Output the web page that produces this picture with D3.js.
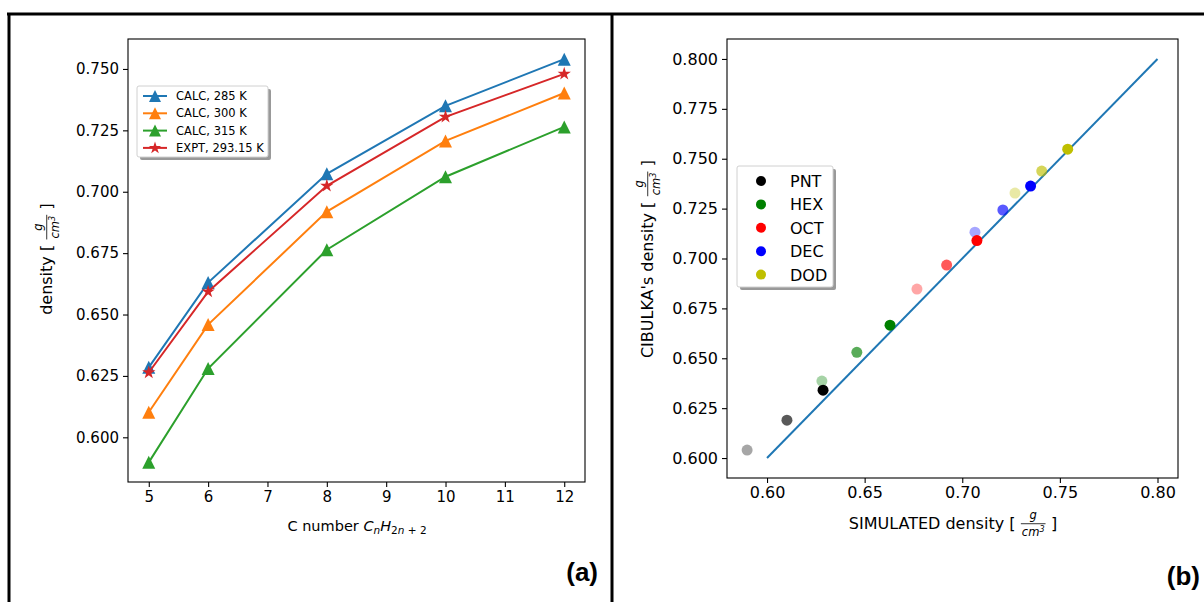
<!DOCTYPE html>
<html>
<head>
<meta charset="utf-8">
<script src="https://cdn.jsdelivr.net/npm/d3@7"></script>
<style>
  body { margin: 0; background: #fff; }
  text { font-family: "DejaVu Sans", sans-serif; fill: #000; }
</style>
</head>
<body>
<svg id="chart" width="1204" height="602"></svg>
<script>
// ---- panel (a): density vs carbon number ----
const carbonNumbers = [5, 6, 8, 10, 12]
const calc285 = [0.6285, 0.6630, 0.7073, 0.7350, 0.7540]
const calc300 = [0.6102, 0.6459, 0.6919, 0.7207, 0.7402]
const calc315 = [0.5898, 0.6280, 0.6764, 0.7061, 0.7264]
const expt29315 = [0.6264, 0.6593, 0.7024, 0.7305, 0.7480]
const seriesNames = ["CALC, 285 K", "CALC, 300 K", "CALC, 315 K", "EXPT, 293.15 K"]
const leftXTicks = [5, 6, 7, 8, 9, 10, 11, 12]
const leftYTicks = [0.600, 0.625, 0.650, 0.675, 0.700, 0.725, 0.750]

// ---- panel (b): simulated vs Cibulka ----
const compounds = ["PNT", "HEX", "OCT", "DEC", "DOD"]
// three temperatures per compound (drawn light -> dark)
const simulated = [
    [0.5898, 0.6102, 0.6287],
    [0.6281, 0.6460, 0.6630],
    [0.6768, 0.6920, 0.7075],
    [0.7065, 0.7208, 0.7350],
    [0.7270, 0.7407, 0.7540]
]
const cibulka = [
    [0.6040, 0.6190, 0.6340],
    [0.6386, 0.6530, 0.6666],
    [0.6847, 0.6967, 0.7090],
    [0.7132, 0.7243, 0.7363],
    [0.7328, 0.7438, 0.7548]
]
const pointAlpha = [0.35, 0.65, 1]
const parityLine = [0.60, 0.80]
const rightXTicks = [0.60, 0.65, 0.70, 0.75, 0.80]
const rightYTicks = [0.600, 0.625, 0.650, 0.675, 0.700, 0.725, 0.750, 0.775, 0.800]

const lineColors = ["#1f77b4", "#ff7f0e", "#2ca02c", "#d62728"]
const dotColors = ["#000000", "#008000", "#ff0000", "#0000ff", "#bfbf00"]

const svg = d3.select("#chart")

// outer panel frame
svg.append("line").attr("x1", 7).attr("x2", 1204).attr("y1", 14).attr("y2", 14)
    .attr("stroke", "#000").attr("stroke-width", 3)
svg.append("line").attr("x1", 9).attr("x2", 9).attr("y1", 13).attr("y2", 602)
    .attr("stroke", "#000").attr("stroke-width", 3)
svg.append("line").attr("x1", 612).attr("x2", 612).attr("y1", 13).attr("y2", 602)
    .attr("stroke", "#000").attr("stroke-width", 3)

function trianglePath(h) {
    return "M0," + (-h) + "L" + h + "," + h + "L" + (-h) + "," + h + "Z"
}
function starPath(r) {
    const inner = r * 0.382
    let p = []
    for (let i = 0; i < 10; i++) {
        const rr = i % 2 === 0 ? r : inner
        const a = -Math.PI / 2 + i * Math.PI / 5
        p.push((rr * Math.cos(a)).toFixed(2) + "," + (rr * Math.sin(a)).toFixed(2))
    }
    return "M" + p.join("L") + "Z"
}

function drawAxes(x, y, xTicks, yTicks, xFmt, yFmt, fs) {
    const [x0, x1] = x.range()
    const [y0, y1] = y.range()
    const xAxis = svg.append("g")
        .attr("transform", "translate(0," + y0 + ")")
        .call(d3.axisBottom(x).tickValues(xTicks).tickSize(5).tickPadding(4).tickFormat(xFmt))
    const yAxis = svg.append("g")
        .attr("transform", "translate(" + x0 + ",0)")
        .call(d3.axisLeft(y).tickValues(yTicks).tickSize(5).tickPadding(4).tickFormat(yFmt))
    for (const a of [xAxis, yAxis]) {
        a.select(".domain").remove()
        a.selectAll("text").style("font-size", fs + "px").style("font-family", "DejaVu Sans").attr("fill", "#000")
        a.selectAll("line").attr("stroke", "#000").attr("stroke-width", 1.1)
    }
    svg.append("rect")
        .attr("x", x0).attr("y", y1)
        .attr("width", x1 - x0).attr("height", y0 - y1)
        .attr("fill", "none").attr("stroke", "#000").attr("stroke-width", 1.1)
}

// label "<before>[ g/cm^3 ]" centred at 0 inside group g
function fracLabel(g, before, fs) {
    const small = fs * 0.72
    const inner = g.append("g")
    const t1 = inner.append("text").style("font-size", fs + "px").text(before + "[")
    let x = t1.node().getComputedTextLength() + fs * 0.4
    const den = inner.append("text").style("font-size", small + "px").style("font-style", "italic")
        .attr("y", fs * 0.45)
    den.append("tspan").text("cm")
    den.append("tspan").style("font-size", (small * 0.7) + "px").attr("dy", -small * 0.4).text("3")
    const w = den.node().getBBox().width
    den.attr("x", x)
    inner.append("text").style("font-size", small + "px").style("font-style", "italic")
        .attr("x", x + w / 2).attr("y", -fs * 0.65).attr("text-anchor", "middle").text("g")
    inner.append("line").attr("x1", x - 1).attr("x2", x + w + 1)
        .attr("y1", -fs * 0.33).attr("y2", -fs * 0.33).attr("stroke", "#000").attr("stroke-width", 0.8)
    x += w + fs * 0.4
    const t2 = inner.append("text").style("font-size", fs + "px").attr("x", x).text("]")
    x += t2.node().getComputedTextLength()
    inner.attr("transform", "translate(" + (-x / 2) + ",0)")
}

function drawLegendBox(x, y, w, h) {
    svg.append("rect").attr("x", x + 3).attr("y", y + 3).attr("width", w).attr("height", h)
        .attr("rx", 2).attr("fill", "#999")
    svg.append("rect").attr("x", x).attr("y", y).attr("width", w).attr("height", h)
        .attr("rx", 2).attr("fill", "#fff").attr("stroke", "#d0d0d0").attr("stroke-width", 1)
}

// ================= panel (a) =================
const xL = d3.scaleLinear().domain([4.65, 12.35]).range([128, 585])
const yL = d3.scaleLinear().domain([0.5818, 0.7622]).range([482, 39])

drawAxes(xL, yL, leftXTicks, leftYTicks, d3.format("d"), d3.format(".3f"), 15)

const leftSeries = [calc285, calc300, calc315, expt29315]
const lineGen = d3.line().x((d, i) => xL(carbonNumbers[i])).y(d => yL(d))

leftSeries.forEach(function (vals, s) {
    svg.append("path").datum(vals)
        .attr("d", lineGen)
        .attr("fill", "none")
        .attr("stroke", lineColors[s])
        .attr("stroke-width", 2)
    svg.selectAll(".mk" + s).data(vals).enter().append("path")
        .attr("class", "mk" + s)
        .attr("transform", (d, i) => "translate(" + xL(carbonNumbers[i]) + "," + yL(d) + ")")
        .attr("d", s === 3 ? starPath(7) : trianglePath(6.5))
        .attr("fill", lineColors[s])
})

// legend (a)
drawLegendBox(137, 86, 131, 71)
seriesNames.forEach(function (name, s) {
    const ly = 96 + s * 17.3
    svg.append("line").attr("x1", 143).attr("x2", 167).attr("y1", ly).attr("y2", ly)
        .attr("stroke", lineColors[s]).attr("stroke-width", 2)
    svg.append("path").attr("transform", "translate(155," + ly + ")")
        .attr("d", s === 3 ? starPath(6.5) : trianglePath(6))
        .attr("fill", lineColors[s])
    svg.append("text").attr("x", 176).attr("y", ly + 4)
        .style("font-size", "11.5px").text(name)
})

// axis labels (a)
const xlabA = svg.append("text").attr("x", 357).attr("y", 531)
    .attr("text-anchor", "middle").style("font-size", "14.5px")
xlabA.append("tspan").text("C number ")
xlabA.append("tspan").style("font-style", "italic").text("C")
xlabA.append("tspan").style("font-style", "italic").style("font-size", "10.5px").attr("dy", 3).text("n")
xlabA.append("tspan").style("font-style", "italic").attr("dy", -3).text("H")
xlabA.append("tspan").style("font-size", "10.5px").attr("dy", 3).text("2")
xlabA.append("tspan").style("font-size", "10.5px").style("font-style", "italic").text("n")
xlabA.append("tspan").style("font-size", "10.5px").text(" + 2")

fracLabel(svg.append("g").attr("transform", "translate(52,259) rotate(-90)"), "density ", 16)

svg.append("text").attr("x", 598).attr("y", 581).attr("text-anchor", "end")
    .style("font-family", "Liberation Sans, Arial, sans-serif").style("font-weight", "bold")
    .style("font-size", "26px").text("(a)")

// ================= panel (b) =================
const xR = d3.scaleLinear().domain([0.5795, 0.8105]).range([727, 1178])
const yR = d3.scaleLinear().domain([0.59, 0.81]).range([478, 39])

drawAxes(xR, yR, rightXTicks, rightYTicks, d3.format(".2f"), d3.format(".3f"), 16)

svg.append("line")
    .attr("x1", xR(parityLine[0])).attr("y1", yR(parityLine[0]))
    .attr("x2", xR(parityLine[1])).attr("y2", yR(parityLine[1]))
    .attr("stroke", "#1f77b4").attr("stroke-width", 2)

// draw light points first, then medium, then full
pointAlpha.forEach(function (a, k) {
    compounds.forEach(function (c, ci) {
        svg.append("circle")
            .attr("cx", xR(simulated[ci][k]))
            .attr("cy", yR(cibulka[ci][k]))
            .attr("r", 5.5)
            .attr("fill", dotColors[ci])
            .attr("fill-opacity", a)
    })
})

// legend (b)
drawLegendBox(737, 166, 96, 121)
compounds.forEach(function (c, ci) {
    const ly = 181 + ci * 23.4
    svg.append("circle").attr("cx", 761).attr("cy", ly).attr("r", 5).attr("fill", dotColors[ci])
    svg.append("text").attr("x", 790).attr("y", ly + 6)
        .style("font-size", "16px").text(c)
})

fracLabel(svg.append("g").attr("transform", "translate(953,529)"), "SIMULATED density ", 16)
fracLabel(svg.append("g").attr("transform", "translate(653,259) rotate(-90)"), "CIBULKA's density ", 16)

svg.append("text").attr("x", 1200).attr("y", 585).attr("text-anchor", "end")
    .style("font-family", "Liberation Sans, Arial, sans-serif").style("font-weight", "bold")
    .style("font-size", "26px").text("(b)")
</script>
</body>
</html>
